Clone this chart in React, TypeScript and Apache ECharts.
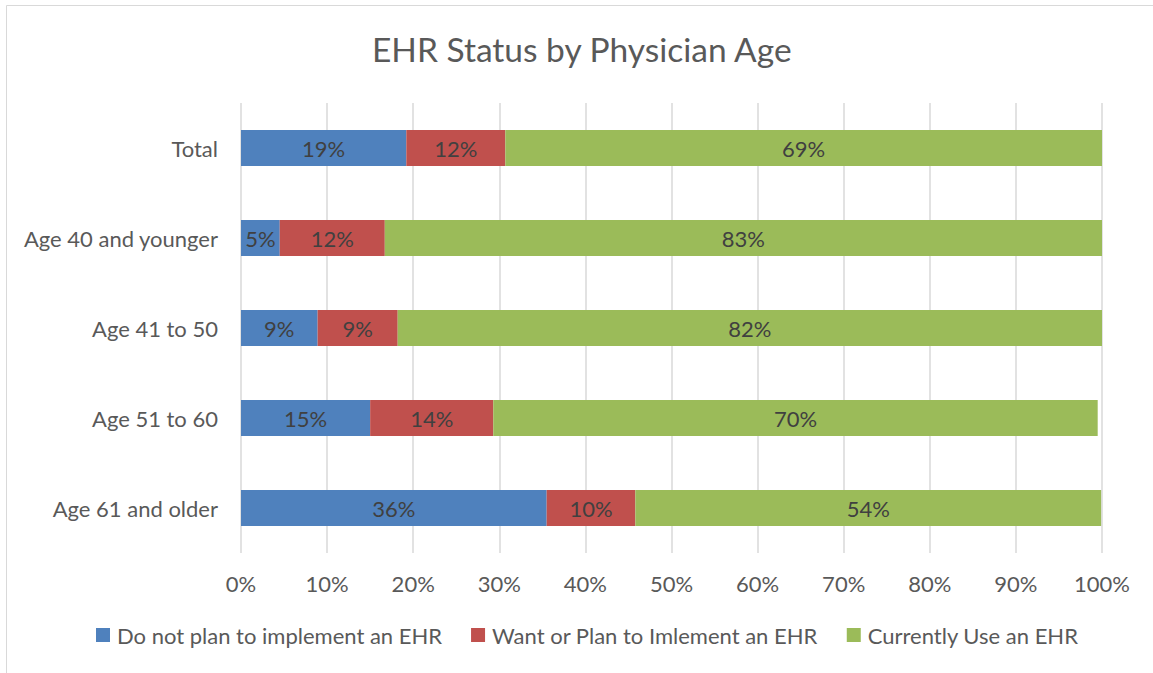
import React, { useEffect, useRef } from "react";
import * as echarts from "echarts";

const categories = ["Total", "Age 40 and younger", "Age 41 to 50", "Age 51 to 60", "Age 61 and older"];
const seriesNames = ["Do not plan to implement an EHR", "Want or Plan to Imlement an EHR", "Currently Use an EHR"];
const doNotPlan = [19.2, 4.5, 8.9, 15.0, 35.5];
const wantPlan = [11.5, 12.2, 9.3, 14.3, 10.3];
const currentlyUse = [69.3, 83.3, 81.8, 70.2, 54.1];
const colors = ["#4f81bd", "#c0504d", "#9bbb59"];
const xTicks = [0, 10, 20, 30, 40, 50, 60, 70, 80, 90, 100];

const FONT = "Lato, 'Open Sans', sans-serif";

export default function App() {
  const ref = useRef<HTMLDivElement>(null);
  useEffect(() => {
    if (!ref.current) return;
    const chart = echarts.init(ref.current, undefined, { renderer: "svg" });
    const values = [doNotPlan, wantPlan, currentlyUse];
    chart.setOption({
      animation: false,
      backgroundColor: "#ffffff",
      textStyle: { fontFamily: FONT },
      title: {
        text: "EHR Status by Physician Age",
        left: 367,
        top: 27,
        textStyle: { fontFamily: FONT, fontSize: 33.5, fontWeight: "normal", color: "#595959" },
      },
      graphic: [
        {
          type: "rect",
          shape: { x: 6.5, y: 5.5, width: 1160, height: 700 },
          style: { fill: "none", stroke: "#d9d9d9", lineWidth: 1 },
          silent: true,
          z: -1,
        },
      ],
      legend: {
        bottom: 22,
        left: 91,
        itemWidth: 14,
        itemHeight: 14,
        itemGap: 29,
        icon: "rect",
        textStyle: { fontFamily: FONT, fontSize: 22, color: "#595959", padding: [0, 0, 0, 2] },
        data: seriesNames,
      },
      grid: { left: 241, right: 51, top: 103, bottom: 120 },
      xAxis: {
        type: "value",
        min: xTicks[0],
        max: xTicks[xTicks.length - 1],
        interval: 10,
        axisLine: { show: false },
        axisTick: { show: false },
        splitLine: { show: true, lineStyle: { color: "#d9d9d9", width: 1.5 } },
        axisLabel: {
          formatter: (v: number) => v + "%",
          fontFamily: FONT,
          fontSize: 22,
          color: "#595959",
          margin: 19,
        },
      },
      yAxis: {
        type: "category",
        inverse: true,
        data: categories,
        axisLine: { show: false },
        axisTick: { show: false },
        axisLabel: { fontFamily: FONT, fontSize: 22, color: "#595959", margin: 23 },
      },
      series: seriesNames.map((name, i) => ({
        name,
        type: "bar",
        stack: "total",
        barWidth: 36,
        data: values[i],
        itemStyle: { color: colors[i] },
        label: {
          show: true,
          position: "inside",
          formatter: (p: any) => Math.round(p.value) + "%",
          fontFamily: FONT,
          fontSize: 22,
          color: "#404040",
        },
      })),
    });
    return () => chart.dispose();
  }, []);
  return (
    <div
      ref={ref}
      style={{ position: "fixed", left: 0, top: 0, width: 1153, height: 673 }}
    />
  );
}
